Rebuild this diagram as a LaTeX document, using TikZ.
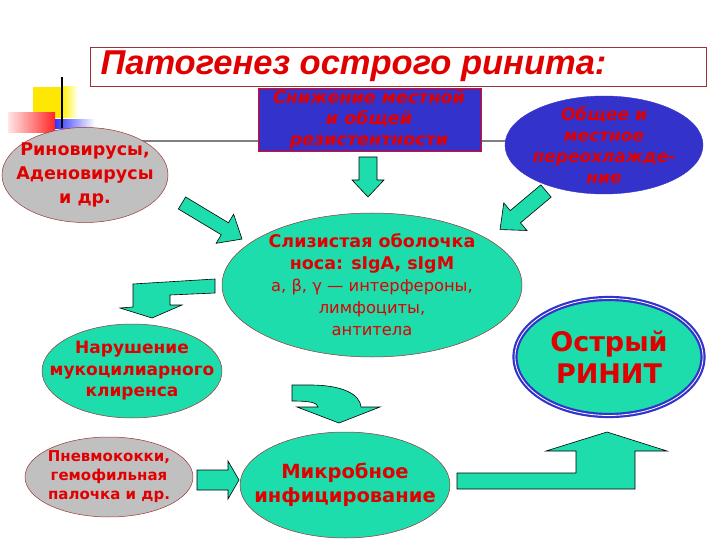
\documentclass[tikz,border=0pt]{standalone}
\usepackage{fontspec}
\setmainfont{DejaVu Sans}
\newfontfamily\titlefont{Liberation Sans}
\usetikzlibrary{shapes.geometric}
\definecolor{tq}{HTML}{1DDDAD}
\definecolor{txtred}{HTML}{E00000}
\definecolor{slideblue}{HTML}{3333CC}
\definecolor{edgered}{HTML}{993333}
\definecolor{bgray}{HTML}{C0C0C0}

% straight block arrow: tail, angle, length, shaft half width, head half width, head length
\newcommand{\barrow}[6]{%
  \begin{scope}[shift={#1}, rotate=#2]
    \draw[blockarr] (0,-#4) -- ({#3-#6},-#4) -- ({#3-#6},-#5) -- (#3,0)
      -- ({#3-#6},#5) -- ({#3-#6},#4) -- (0,#4) -- cycle;
  \end{scope}}
\newcommand{\thin}{\mdseries\fontsize{16.3}{22}\selectfont}

\tikzset{
  blockarr/.style={fill=tq, draw=black, line width=0.6pt, line join=miter},
  oval/.style={ellipse, draw=edgered, line width=0.5pt, inner sep=0pt},
  lbl/.style={align=center, text=txtred},
}

\begin{document}
\begin{tikzpicture}[x=1pt, y=-1pt]
\useasboundingbox (0,0) rectangle (720,540);

% Slide decoration
\draw[line width=2pt, color=gray] (62,141) -- (620,141);
\fill[color=yellow!90!orange] (33,87) rectangle (62,118);
\shade[left color=yellow!90!orange, right color=white] (62,87) rectangle (78,118);
\shade[left color=red!10, right color=red!85] (8,113) rectangle (55,133);
\shade[left color=blue!80, right color=white] (55,120) rectangle (95,129);
\draw[line width=1.5pt] (62,77) -- (62,128);

% Title
\node[draw=edgered, minimum width=616pt, minimum height=39pt, anchor=north west] (titlebox) at (90,47) {};
\node[anchor=west, text=txtred, font=\titlefont\bfseries\itshape\fontsize{34.5}{40}\selectfont] (title) at (97,66) {Патогенез острого ринита:};

% Causes
\node[oval, fill=bgray, minimum width=166pt, minimum height=95pt] (rhino) at (85,175) {};
\node[lbl, font=\bfseries\fontsize{17.5}{24}\selectfont] at (rhino) {Риновирусы,\\Аденовирусы\\и др.};

\node[draw=red, fill=slideblue, minimum width=223pt, minimum height=63pt, anchor=north west] (resist) at (258,88) {};
\node[lbl, font=\bfseries\itshape\fontsize{17.5}{21}\selectfont] at (369,120) {Снижение местной\\и общей\\резистентности};

\node[ellipse, fill=slideblue, draw=slideblue, minimum width=198pt, minimum height=98pt, inner sep=0pt] (cold) at (604,145) {};
\node[lbl, font=\bfseries\itshape\fontsize{17}{21}\selectfont] at (cold) {Общее и\\местное\\переохлажде-\\ние};

% Mucosa
\node[oval, fill=tq, minimum width=300pt, minimum height=144pt] (mucosa) at (372,285) {};
\node[lbl, font=\bfseries\fontsize{17.5}{22}\selectfont] at (mucosa) {Слизистая оболочка\\носа: sIgA, sIgM\\\thin а, β, γ — интерфероны,\\\thin лимфоциты,\\\thin антитела};

\node[oval, fill=tq, minimum width=180pt, minimum height=94pt] (clear) at (132,371) {};
\node[lbl, font=\bfseries\fontsize{17}{21.5}\selectfont] at (clear) {Нарушение\\мукоцилиарного\\клиренса};

\node[oval, fill=bgray, minimum width=168pt, minimum height=80pt] (pneumo) at (109,477) {};
\node[lbl, font=\bfseries\fontsize{15}{19}\selectfont] at (pneumo) {Пневмококки,\\гемофильная\\палочка и др.};

\node[oval, fill=tq, minimum width=210pt, minimum height=106pt] (infect) at (345,485) {};
\node[lbl, font=\bfseries\fontsize{19.5}{24}\selectfont] at (infect) {Микробное\\инфицирование};

% Result
\node[ellipse, fill=tq, draw=slideblue, line width=2.2pt, double=white, double distance=0.8pt, minimum width=188pt, minimum height=117pt, inner sep=0pt] (rhinitis) at (609,357) {};
\node[lbl, font=\bfseries\fontsize{27}{32}\selectfont] at (rhinitis) {Острый\\РИНИТ};

% Block arrows
\barrow{(368,157)}{-90}{40}{9}{16}{17}
\barrow{(182,203)}{-31}{70}{7}{17}{20}
\barrow{(546,191)}{-140}{60}{8}{18}{20}
\barrow{(197,480)}{0}{42}{10}{19}{11}

\draw[blockarr] (215,279) -- (215,293) -- (170,295) -- (170,305) -- (182,305) -- (152,318)
  -- (120,308) -- (133,307) -- (133,284) -- cycle;

\draw[blockarr] (292,385) -- (310,385) .. controls (342,385) and (360,394) .. (361,407)
  -- (380,407) -- (339,423) -- (297,407) -- (318,407) .. controls (317,403) and (312,401) .. (292,401) -- cycle;

\draw[blockarr] (457,473) -- (576,473) -- (576,451) -- (546,451) -- (607,432) -- (667,451)
  -- (635,451) -- (635,489) -- (457,489) -- cycle;

\end{tikzpicture}
\end{document}
